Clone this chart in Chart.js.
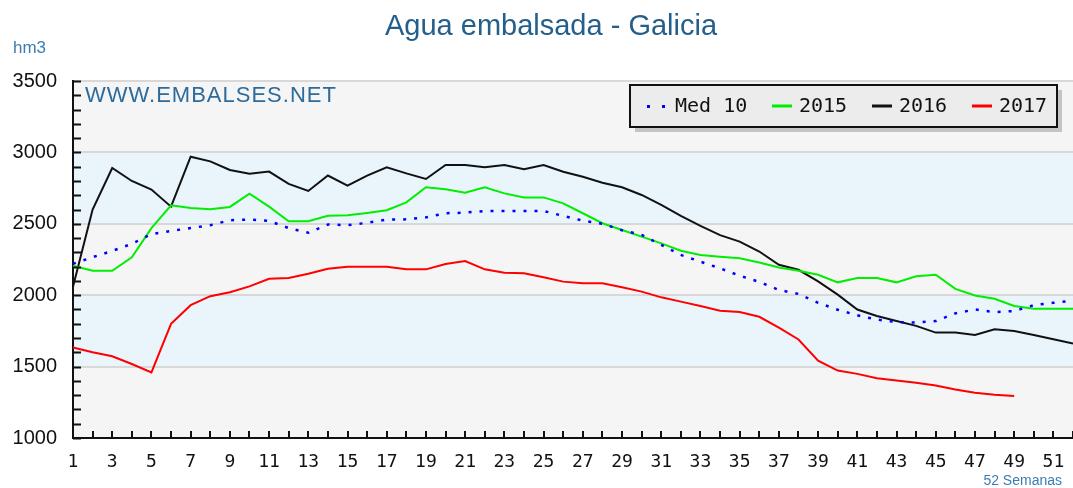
<!DOCTYPE html>
<html lang="es">
<head>
<meta charset="UTF-8">
<title>Agua embalsada - Galicia</title>
<script src="https://cdn.jsdelivr.net/npm/chart.js@4.4.0/dist/chart.umd.min.js"></script>
<style>
  * { margin: 0; padding: 0; box-sizing: border-box; }
  body { background: #fff; }
  #wrap { width: 1073px; height: 488px; position: relative; }
</style>
</head>
<body>
<div id="wrap"><canvas id="chart"></canvas></div>
<script>
// semanas 1..52
const weeks = [1,2,3,4,5,6,7,8,9,10,11,12,13,14,15,16,17,18,19,20,21,22,23,24,25,26,
  27,28,29,30,31,32,33,34,35,36,37,38,39,40,41,42,43,44,45,46,47,48,49,50,51,52];

const med10 = [2220,2266,2310,2360,2428,2450,2470,2490,2525,2530,2520,2470,2437,2495,2490,2507,2530,
  2531,2545,2574,2578,2590,2590,2590,2590,2555,2522,2500,2455,2422,2352,2282,2235,2188,
  2137,2093,2037,2009,1947,1898,1859,1829,1812,1808,1819,1873,1900,1882,1889,1930,1947,1961];

const y2015 = [2206,2171,2171,2265,2470,2630,2611,2602,2618,2711,2620,2518,2518,2556,2560,2576,2595,
  2650,2756,2742,2718,2756,2713,2685,2685,2643,2574,2504,2457,2410,2363,2311,2282,2270,
  2259,2229,2194,2171,2143,2090,2120,2120,2090,2132,2143,2044,1998,1975,1924,1905,1905,1905];

const y2016 = [2060,2600,2891,2800,2740,2620,2970,2937,2877,2850,2866,2780,2730,2838,2768,2838,2896,
  2853,2814,2912,2912,2896,2912,2882,2912,2865,2830,2788,2756,2702,2632,2555,2485,2421,
  2375,2306,2213,2178,2097,2004,1900,1854,1819,1785,1738,1738,1722,1761,1750,1722,1692,1662];

const y2017 = [1634,1600,1572,1518,1460,1800,1930,1993,2021,2062,2115,2120,2150,2185,2200,2200,2200,
  2181,2181,2218,2239,2181,2158,2154,2125,2095,2083,2083,2055,2025,1985,1955,1924,1891,
  1882,1849,1773,1690,1541,1472,1449,1419,1403,1387,1368,1340,1317,1303,1294];

const seriesNames = ['Med 10', '2015', '2016', '2017'];
const bands = [[1500, 2000], [2500, 3000]];

const canvas = document.getElementById('chart');
canvas.width = 1073;
canvas.height = 488;

const decor = {
  id: 'decor',
  beforeDraw(chart) {
    const { ctx, chartArea: a, scales: { y } } = chart;
    ctx.save();
    ctx.fillStyle = '#fff';
    ctx.fillRect(0, 0, chart.width, chart.height);
    ctx.fillStyle = '#f5f5f5';
    ctx.fillRect(a.left, a.top, a.right - a.left, a.bottom - a.top);
    ctx.fillStyle = '#eaf4fb';
    bands.forEach(([lo, hi]) => {
      const t = y.getPixelForValue(hi), b = y.getPixelForValue(lo);
      ctx.fillRect(a.left, t, a.right - a.left, b - t);
    });
    ctx.restore();
  },
  afterDraw(chart) {
    const { ctx, chartArea: a, scales: { x, y } } = chart;
    ctx.save();

    // small ticks, pointing inwards
    ctx.strokeStyle = '#111';
    ctx.lineWidth = 2;
    ctx.beginPath();
    for (let v = 1000; v <= 3500; v += 100) {
      const py = Math.round(y.getPixelForValue(v)) + 0.5;
      ctx.moveTo(a.left, py);
      ctx.lineTo(a.left + 8, py);
    }
    weeks.forEach((w, i) => {
      const px = Math.round(x.getPixelForValue(i));
      ctx.moveTo(px, a.bottom);
      ctx.lineTo(px, a.bottom - 7);
    });
    ctx.stroke();

    // texts
    ctx.textBaseline = 'middle';
    ctx.fillStyle = '#245f8c';
    ctx.textAlign = 'center';
    ctx.font = '29px "Liberation Sans", Arial, sans-serif';
    ctx.fillText('Agua embalsada - Galicia', 551, 27);

    ctx.fillStyle = '#3b7db2';
    ctx.textAlign = 'left';
    ctx.font = '17px "Liberation Sans", Arial, sans-serif';
    ctx.fillText('hm3', 13, 48);

    ctx.fillStyle = '#2c6b9b';
    ctx.font = '22px "Liberation Sans", Arial, sans-serif';
    ctx.letterSpacing = '1px';
    ctx.fillText('WWW.EMBALSES.NET', 85, 96);
    ctx.letterSpacing = '0px';

    ctx.fillStyle = '#3b7db2';
    ctx.textAlign = 'right';
    ctx.font = '14px "Liberation Sans", Arial, sans-serif';
    ctx.fillText('52 Semanas', 1062, 481);

    // legend box
    const bx = 630, by = 85, bw = 427, bh = 42;
    ctx.fillStyle = '#c4c4c4';
    ctx.fillRect(bx + 5, by + 5, bw, bh);
    ctx.fillStyle = '#ececec';
    ctx.fillRect(bx, by, bw, bh);
    ctx.strokeStyle = '#111';
    ctx.lineWidth = 2;
    ctx.strokeRect(bx, by, bw, bh);

    const ly = by + bh / 2;
    const items = chart.data.datasets;
    const starts = [645, 772, 872, 972];
    ctx.font = '20px "DejaVu Sans Mono", monospace';
    ctx.textAlign = 'left';
    items.forEach((ds, i) => {
      const sx = starts[i];
      ctx.fillStyle = ds.borderColor;
      ctx.strokeStyle = ds.borderColor;
      if (ds.borderDash) {
        ctx.fillRect(sx + 2, ly - 1, 3, 3);
        ctx.fillRect(sx + 17, ly - 1, 3, 3);
      } else {
        ctx.lineWidth = 3;
        ctx.beginPath();
        ctx.moveTo(sx, ly);
        ctx.lineTo(sx + 20, ly);
        ctx.stroke();
      }
      ctx.fillStyle = '#111';
      ctx.fillText(ds.label, sx + (ds.borderDash ? 30 : 27), ly + 1);
    });
    ctx.restore();
  }
};

new Chart(canvas, {
  type: 'line',
  data: {
    labels: weeks,
    datasets: [
      { label: seriesNames[0], data: med10, borderColor: '#0000ff', borderWidth: 2.5, borderDash: [3, 8] },
      { label: seriesNames[1], data: y2015, borderColor: '#00ee00', borderWidth: 2 },
      { label: seriesNames[2], data: y2016, borderColor: '#111111', borderWidth: 2 },
      { label: seriesNames[3], data: y2017, borderColor: '#ff0000', borderWidth: 2 }
    ]
  },
  options: {
    responsive: false,
    animation: false,
    layout: { padding: { top: 81, left: 0, right: 0, bottom: 0 }, autoPadding: false },
    elements: { point: { radius: 0 }, line: { tension: 0 } },
    plugins: { legend: { display: false }, tooltip: { enabled: false }, title: { display: false } },
    scales: {
      x: {
        type: 'category',
        offset: false,
        grid: { display: false, drawTicks: false },
        border: { display: true, color: '#111', width: 2 },
        ticks: {
          autoSkip: false,
          maxRotation: 0,
          padding: 14,
          color: '#111',
          font: { family: '"DejaVu Sans Mono", monospace', size: 18 },
          callback: function (v, i) { return weeks[i] % 2 === 1 ? String(weeks[i]) : ''; }
        },
        afterFit: s => { s.height = 50; s.paddingLeft = 0; s.paddingRight = 0; }
      },
      y: {
        min: 1000,
        max: 3500,
        grid: { color: '#d8d8d8', lineWidth: 2, drawTicks: false },
        border: { display: true, color: '#111', width: 2 },
        ticks: {
          stepSize: 500,
          padding: 16,
          color: '#111',
          font: { family: '"Liberation Sans", Arial, sans-serif', size: 20 },
          callback: v => String(v)
        },
        afterFit: s => { s.width = 73; }
      }
    }
  },
  plugins: [decor]
});
</script>
</body>
</html>
